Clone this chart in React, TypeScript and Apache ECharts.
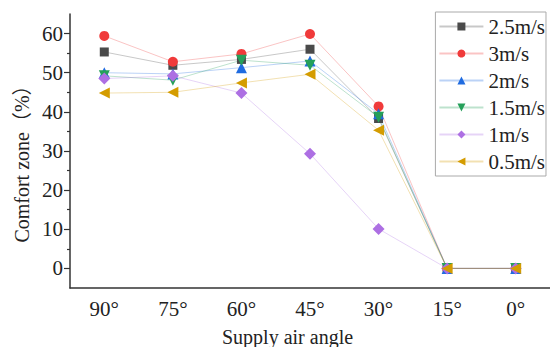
import React, { useEffect, useRef } from "react";
import * as echarts from "echarts";

const categories = ["90°", "75°", "60°", "45°", "30°", "15°", "0°"];
const yTickValues = [0, 10, 20, 30, 40, 50, 60];
const yMinorValues = [5, 15, 25, 35, 45, 55];

const s25 = [55.3, 51.9, 53.4, 56.0, 38.3, 0, 0];
const s3 = [59.4, 52.8, 54.8, 59.9, 41.4, 0, 0];
const s2 = [50.0, 49.7, 51.3, 53.0, 39.5, 0, 0];
const s15 = [49.2, 48.1, 53.2, 51.9, 38.6, 0, 0];
const s1 = [48.5, 49.2, 44.8, 29.3, 10.1, 0, 0];
const s05 = [44.8, 45.0, 47.4, 49.6, 35.3, 0, 0];

const FONT = "'Liberation Serif', 'Times New Roman', 'Noto Sans CJK SC', serif";

export default function App() {
  const ref = useRef<HTMLDivElement>(null);
  useEffect(() => {
    if (!ref.current) return;
    const chart = echarts.init(ref.current, undefined, { renderer: "svg" });
    const mk = (name: string, data: number[], color: string, symbol: string, size: number, rotate = 0) => ({
      name,
      type: "line",
      data,
      xAxisIndex: 0,
      yAxisIndex: 0,
      symbol,
      symbolSize: size,
      symbolRotate: rotate,
      itemStyle: { color },
      lineStyle: { color, width: 1, opacity: 0.3 },
      emphasis: { disabled: true },
    });
    chart.setOption({
      animation: false,
      backgroundColor: "#fff",
      grid: { left: 70, top: 14, right: -5, bottom: 59 },
      legend: {
        right: 4,
        top: 12,
        orient: "vertical",
        itemWidth: 44,
        itemHeight: 10,
        itemGap: 6,
        padding: [4, 1, 4, 3],
        borderColor: "#aaa",
        borderWidth: 1,
        textStyle: { fontFamily: FONT, fontSize: 21, color: "#222", lineHeight: 21 },
        data: ["2.5m/s", "3m/s", "2m/s", "1.5m/s", "1m/s", "0.5m/s"],
      },
      xAxis: [
        {
          type: "category",
          data: categories,
          boundaryGap: true,
          axisLine: { onZero: false, lineStyle: { color: "#333", width: 1.5 } },
          axisTick: { alignWithLabel: true, length: 5, lineStyle: { color: "#333", width: 1.2 } },
          axisLabel: { fontFamily: FONT, fontSize: 21, color: "#222", margin: 10 },
        },
        {
          type: "category",
          data: categories,
          boundaryGap: true,
          position: "bottom",
          axisLine: { show: false, onZero: false },
          axisTick: { length: 3, lineStyle: { color: "#333", width: 1.2 } },
          axisLabel: { show: false },
        },
      ],
      yAxis: [
        {
          type: "value",
          min: -5,
          max: 65,
          splitLine: { show: false },
          axisLine: { show: true, lineStyle: { color: "#333", width: 1.5 } },
          axisTick: { show: true, length: 6, customValues: yTickValues, lineStyle: { color: "#333", width: 1.2 } },
          axisLabel: { customValues: yTickValues, fontFamily: FONT, fontSize: 21, color: "#222", margin: 7 },
        },
        {
          type: "value",
          min: -5,
          max: 65,
          position: "left",
          splitLine: { show: false },
          axisLine: { show: false },
          axisTick: { show: true, length: 3, customValues: yMinorValues, lineStyle: { color: "#333", width: 1.2 } },
          axisLabel: { show: false },
        },
      ],
      graphic: [
        {
          type: "text",
          left: 222,
          top: 327,
          style: { text: "Supply air angle", fontFamily: FONT, fontSize: 20, fill: "#222" },
        },
        {
          type: "text",
          x: 22,
          y: 159,
          rotation: Math.PI / 2,
          style: {
            text: "Comfort zone（%）",
            fontFamily: FONT,
            fontSize: 20,
            fill: "#222",
            align: "center",
            verticalAlign: "middle",
          },
        },
      ],
      series: [
        mk("2.5m/s", s25, "#4a4a4a", "rect", 9),
        mk("3m/s", s3, "#f03a3a", "circle", 10),
        mk("2m/s", s2, "#1f6be0", "triangle", 11),
        mk("1.5m/s", s15, "#25a05a", "triangle", 11, 180),
        mk("1m/s", s1, "#ad6fe3", "diamond", 12),
        mk("0.5m/s", s05, "#d49c00", "triangle", 11, 90),
      ],
    });
    return () => chart.dispose();
  }, []);
  return <div ref={ref} style={{ width: 550, height: 347, position: "absolute", left: 0, top: 0 }} />;
}
